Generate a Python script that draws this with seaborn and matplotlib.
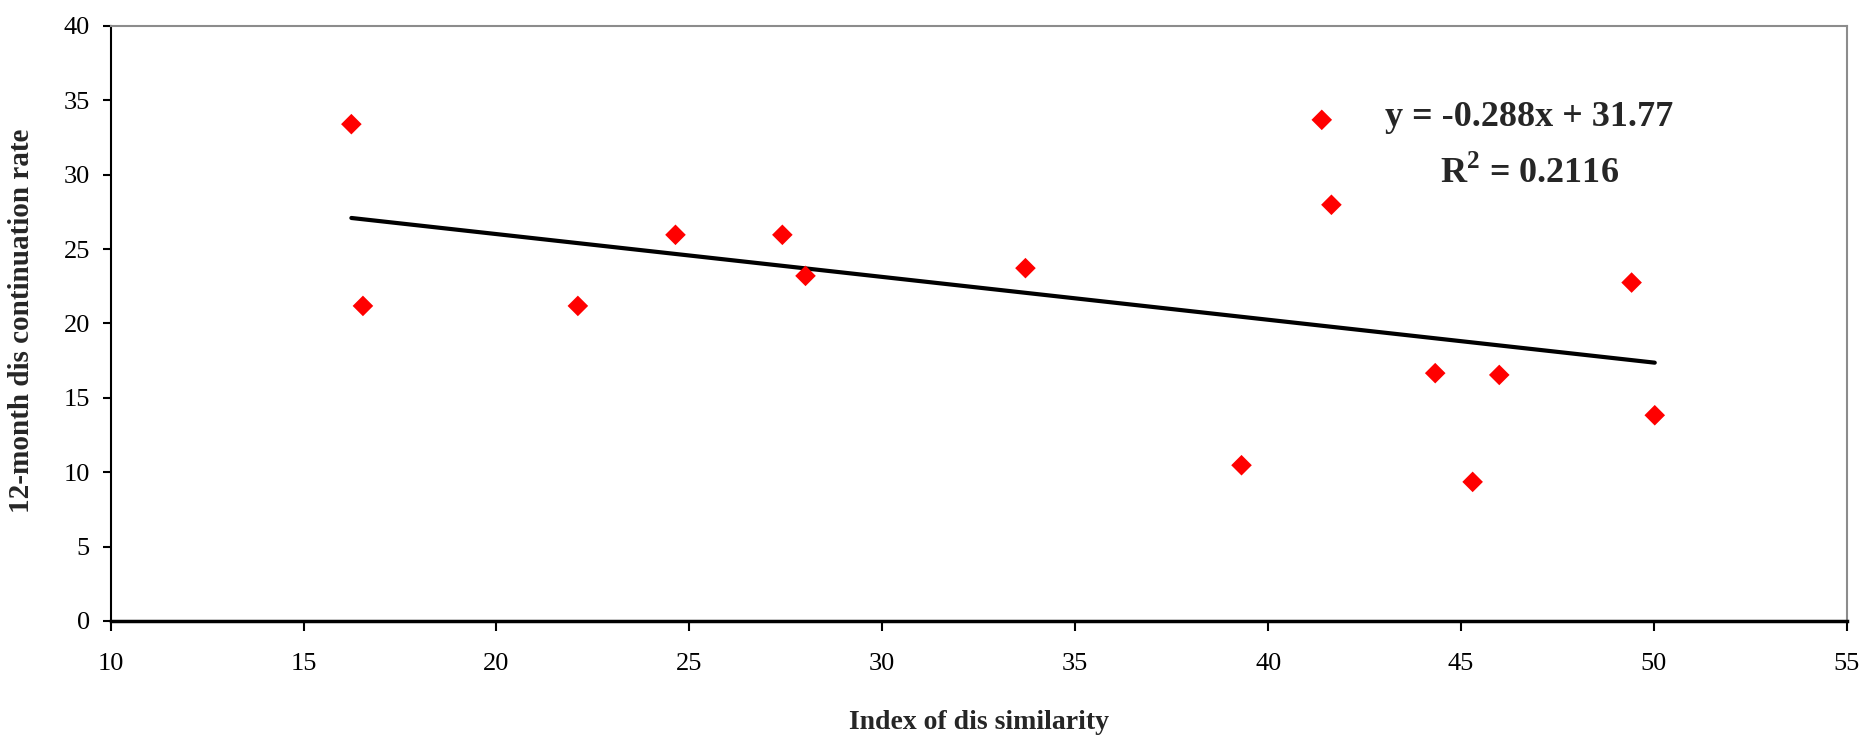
import numpy as np
import pandas as pd
import seaborn as sns
import matplotlib.pyplot as plt

# values
dissimilarity = [16.24, 16.54, 22.11, 24.64, 27.41, 28.01, 33.71, 39.31,
                 41.39, 41.64, 44.33, 45.30, 45.99, 49.42, 50.02]
discontinuation = [33.40, 21.18, 21.18, 25.96, 25.96, 23.20, 23.72, 10.47,
                   33.69, 27.98, 16.66, 9.35, 16.54, 22.75, 13.83]
slope = -0.288
intercept = 31.77
r_squared = 0.2116
x_ticks = [10, 15, 20, 25, 30, 35, 40, 45, 50, 55]
y_ticks = [0, 5, 10, 15, 20, 25, 30, 35, 40]

df = pd.DataFrame({'x': dissimilarity, 'y': discontinuation})
trend = pd.DataFrame({'x': [min(dissimilarity), max(dissimilarity)]})
trend['y'] = slope * trend['x'] + intercept

sns.set_style("white")
plt.rcParams['font.family'] = ['Liberation Serif', 'DejaVu Serif']
plt.rcParams['mathtext.fontset'] = 'custom'
plt.rcParams['mathtext.rm'] = 'Liberation Serif:bold'

fig = plt.figure(figsize=(18.65, 7.36), dpi=100)
ax = fig.add_axes([0.0593, 0.1563, 0.9310, 0.8084])

sns.lineplot(data=trend, x='x', y='y', color='black', linewidth=3, ax=ax)
sns.scatterplot(data=df, x='x', y='y', marker='D', color='#ff0000', s=110,
                edgecolor='none', ax=ax, zorder=3)

ax.set_xlim(10, 55)
ax.set_ylim(0, 40)
ax.set_xticks(x_ticks)
ax.set_yticks(y_ticks)
ax.tick_params(axis='x', direction='out', length=7, width=1.5, pad=16,
               labelsize=19, bottom=True, colors='black')
ax.tick_params(axis='y', direction='out', length=6, width=1.5, pad=9,
               labelsize=19, left=True, colors='black')

for side in ['left', 'bottom']:
    ax.spines[side].set_color('black')
ax.spines['left'].set_linewidth(1.5)
ax.spines['bottom'].set_linewidth(2.5)
for side in ['top', 'right']:
    ax.spines[side].set_color('#8c8c8c')
    ax.spines[side].set_linewidth(1.5)

ax.set_xlabel('Index of dis similarity', fontsize=20, fontweight='bold', labelpad=25)
ax.set_ylabel('12-month dis continuation rate', fontsize=21, fontweight='bold')
ax.yaxis.set_label_coords(-0.0435, 0.504)

ax.text(0.817, 0.847, f'y = {slope}x + {intercept}', transform=ax.transAxes,
        ha='center', va='center', fontsize=26, fontweight='bold')
ax.text(0.817, 0.752, 'R$^{2}$ = ' + str(r_squared), transform=ax.transAxes,
        ha='center', va='center', fontsize=26, fontweight='bold')

fig.savefig('out.png', dpi=100)
